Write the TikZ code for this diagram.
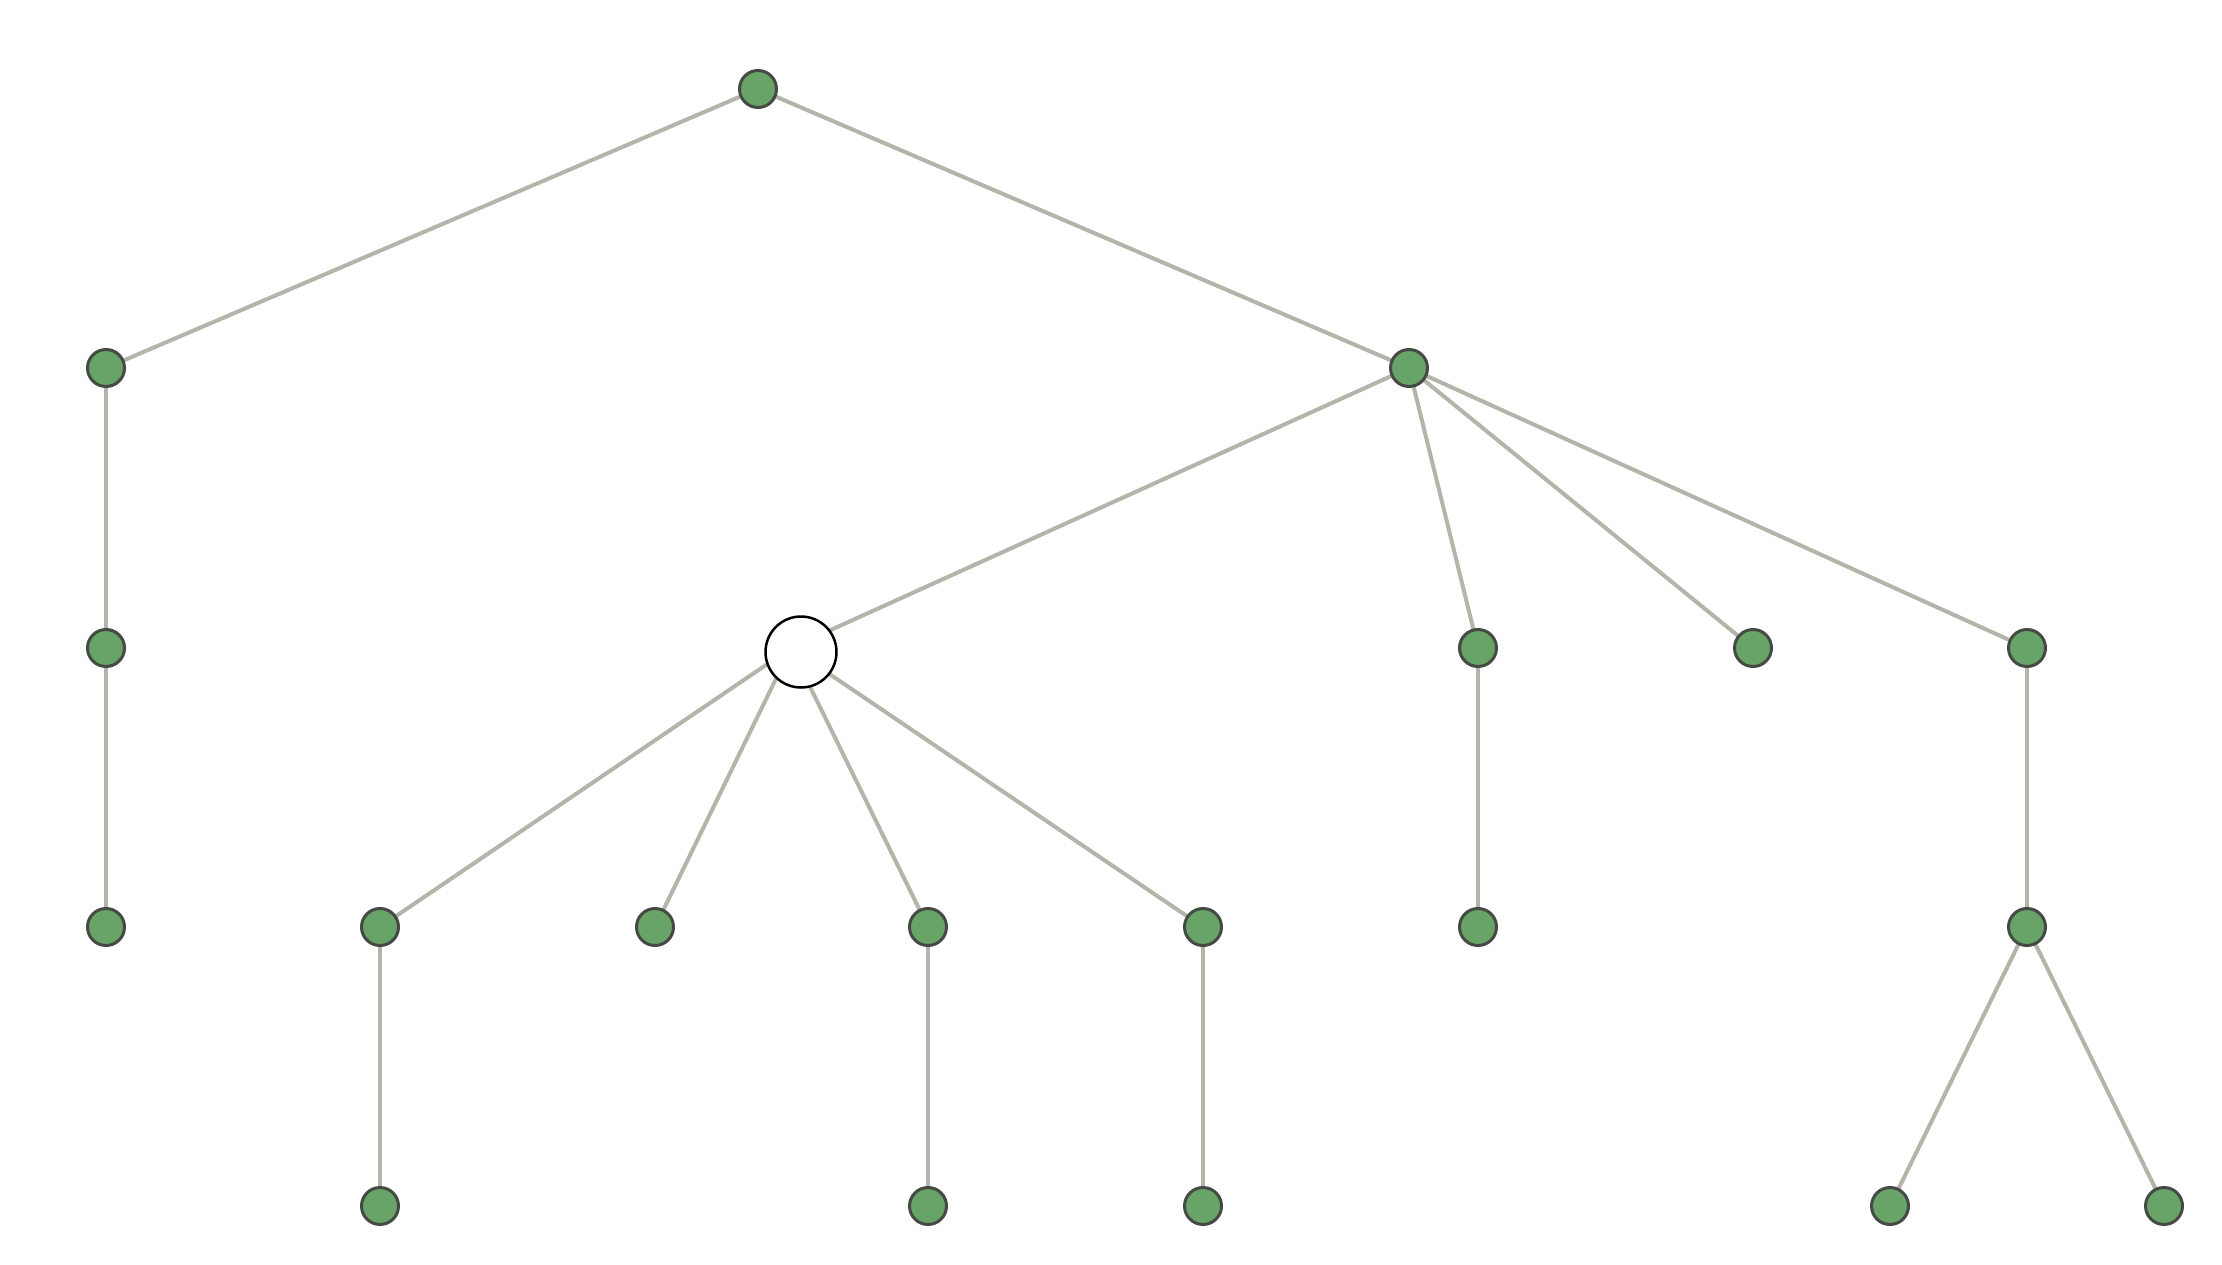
\documentclass[tikz,border=0pt]{standalone}
\usetikzlibrary{backgrounds}
\definecolor{nodefill}{HTML}{68A468}
\definecolor{nodeline}{HTML}{454A45}
\definecolor{edgecol}{HTML}{B4B4AA}
\tikzset{
  gnode/.style={circle,fill=nodefill,draw=nodeline,line width=3pt,minimum size=37pt,inner sep=0pt},
  wnode/.style={circle,fill=white,draw=black,line width=2.5pt,minimum size=71pt,inner sep=0pt},
  edge/.style={draw=edgecol,line width=4pt}
}
\begin{document}
\begin{tikzpicture}[x=1pt,y=-1pt]
\useasboundingbox (0,0) rectangle (2222,1265);
\node[gnode] (r) at (758,89) {};
\node[gnode] (a) at (106,368) {};
\node[gnode] (b) at (1409,368) {};
\node[gnode] (a1) at (106,648) {};
\node[gnode] (a2) at (106,927) {};
\coordinate (wc) at (791,648);
\node[wnode] (w) at (801,652) {};
\node[gnode] (c1) at (1478,648) {};
\node[gnode] (c2) at (1753,648) {};
\node[gnode] (c3) at (2027,648) {};
\node[gnode] (w1) at (380,927) {};
\node[gnode] (w2) at (655,927) {};
\node[gnode] (w3) at (928,927) {};
\node[gnode] (w4) at (1203,927) {};
\node[gnode] (c1a) at (1478,927) {};
\node[gnode] (c3a) at (2027,927) {};
\node[gnode] (w1a) at (380,1206) {};
\node[gnode] (w3a) at (928,1206) {};
\node[gnode] (w4a) at (1203,1206) {};
\node[gnode] (c3b) at (1890,1206) {};
\node[gnode] (c3c) at (2164,1206) {};
\begin{scope}[on background layer]
\draw[edge] (r.center) -- (a.center);
\draw[edge] (r.center) -- (b.center);
\draw[edge] (a.center) -- (a1.center);
\draw[edge] (a1.center) -- (a2.center);
\draw[edge] (b.center) -- (wc);
\draw[edge] (b.center) -- (c1.center);
\draw[edge] (b.center) -- (c2.center);
\draw[edge] (b.center) -- (c3.center);
\draw[edge] (wc) -- (w1.center);
\draw[edge] (wc) -- (w2.center);
\draw[edge] (wc) -- (w3.center);
\draw[edge] (wc) -- (w4.center);
\draw[edge] (w1.center) -- (w1a.center);
\draw[edge] (w3.center) -- (w3a.center);
\draw[edge] (w4.center) -- (w4a.center);
\draw[edge] (c1.center) -- (c1a.center);
\draw[edge] (c3.center) -- (c3a.center);
\draw[edge] (c3a.center) -- (c3b.center);
\draw[edge] (c3a.center) -- (c3c.center);
\end{scope}
\end{tikzpicture}
\end{document}
